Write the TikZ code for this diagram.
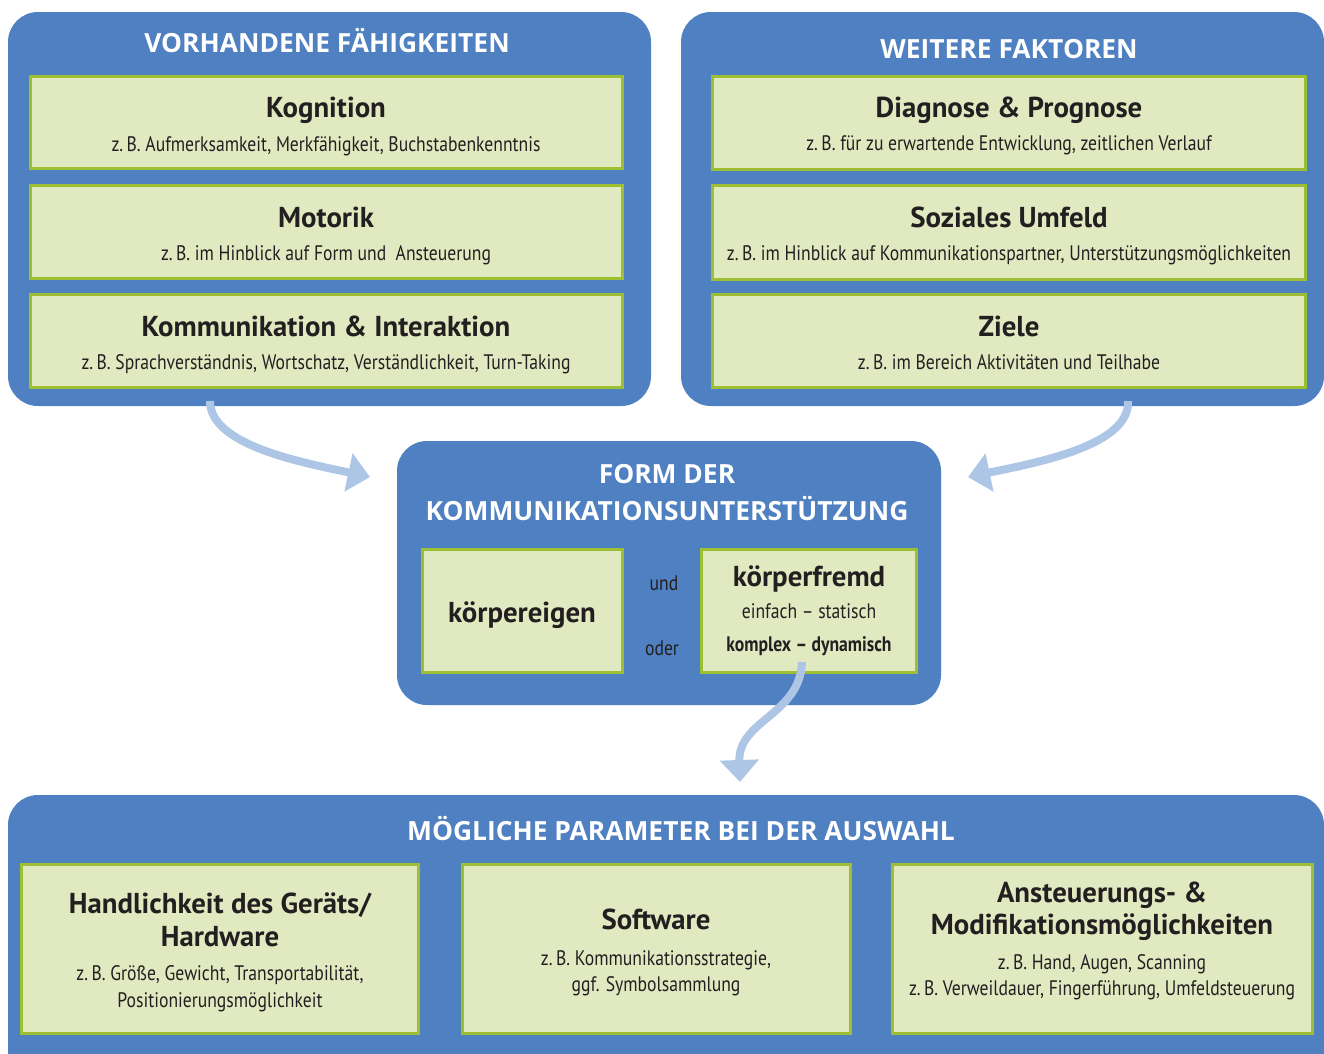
\documentclass[tikz,border=0pt]{standalone}
\usepackage{fontspec}
\setmainfont{PT Sans}
\newfontfamily\condfont[FakeStretch=0.84]{PT Sans}
\newfontfamily\headfont{Open Sans}
\usetikzlibrary{arrows.meta}
\definecolor{panelblue}{HTML}{4F80C1}
\definecolor{boxfill}{HTML}{E1E9C1}
\definecolor{boxline}{HTML}{9DBF32}
\definecolor{arrowblue}{HTML}{ADC6E6}
\definecolor{txt}{HTML}{231F20}
\tikzset{
  panel/.style={fill=panelblue, draw=none, rounded corners=30pt, inner sep=0pt},
  box/.style={fill=boxfill, draw=boxline, line width=3pt, inner sep=0pt},
  ptitle/.style={anchor=base, text=white, inner sep=0pt, font=\headfont\bfseries\fontsize{26.4}{30}\selectfont},
  btitle/.style={anchor=base, text=txt, inner sep=0pt, font=\bfseries\fontsize{28.8}{30}\selectfont},
  bsub/.style={anchor=base, text=txt, inner sep=0pt, font=\condfont\fontsize{21}{23}\selectfont},
  bsubb/.style={anchor=base, text=txt, inner sep=0pt, font=\condfont\bfseries\fontsize{21}{23}\selectfont},
  flow/.style={draw=arrowblue, line width=8pt, -{Triangle[width=38pt,length=22pt]}}
}
\begin{document}
\begin{tikzpicture}[x=1pt,y=-1pt]
\useasboundingbox (0,0) rectangle (1324,1053);
% panels
\node[panel, minimum width=643pt, minimum height=394pt] (vorh) at (329.5,209) {};
\node[panel, minimum width=643pt, minimum height=394pt] (weit) at (1002.5,209) {};
\node[panel, minimum width=544pt, minimum height=264pt] (form) at (669,573) {};
\node[panel, minimum width=1316pt, minimum height=290pt] (param) at (666,940) {};
% left boxes
\node[box, minimum width=592pt, minimum height=92pt] (kog) at (326.5,122.5) {};
\node[box, minimum width=592pt, minimum height=93pt] (mot) at (326.5,232) {};
\node[box, minimum width=592pt, minimum height=93pt] (kom) at (326.5,341) {};
% right boxes
\node[box, minimum width=593pt, minimum height=93pt] (dia) at (1009,123) {};
\node[box, minimum width=593pt, minimum height=94pt] (soz) at (1009,232.5) {};
\node[box, minimum width=593pt, minimum height=93pt] (zie) at (1009,341) {};
% middle boxes
\node[box, minimum width=200pt, minimum height=123pt] (eig) at (522.5,611) {};
\node[box, minimum width=215pt, minimum height=123pt] (fre) at (809,611) {};
% bottom boxes
\node[box, minimum width=397pt, minimum height=169pt] (han) at (220,949) {};
\node[box, minimum width=388pt, minimum height=169pt] (sof) at (656.5,949) {};
\node[box, minimum width=420pt, minimum height=169pt] (ans) at (1102.5,949) {};
% panel titles
\node[ptitle] (t1) at (327,52) {VORHANDENE FÄHIGKEITEN};
\node[ptitle] (t2) at (1009,58) {WEITERE FAKTOREN};
\node[ptitle] (t3a) at (667,483) {FORM DER};
\node[ptitle] (t3b) at (667,520) {KOMMUNIKATIONSUNTERSTÜTZUNG};
\node[ptitle] (t4) at (681,840) {MÖGLICHE PARAMETER BEI DER AUSWAHL};
% left texts
\node[btitle] (kogt) at (326,117) {Kognition};
\node[bsub] (kogs) at (326,151) {z.\,B. Aufmerksamkeit, Merkfähigkeit, Buchstabenkenntnis};
\node[btitle] (mott) at (326,227) {Motorik};
\node[bsub] (mots) at (326,260) {z.\,B. im Hinblick auf Form und\ \ Ansteuerung};
\node[btitle] (komt) at (326,336) {Kommunikation \& Interaktion};
\node[bsub] (koms) at (326,369) {z.\,B. Sprachverständnis, Wortschatz, Verständlichkeit, Turn-Taking};
% right texts
\node[btitle] (diat) at (1009,117) {Diagnose \& Prognose};
\node[bsub] (dias) at (1009,150) {z.\,B. für zu erwartende Entwicklung, zeitlichen Verlauf};
\node[btitle] (sozt) at (1009,227) {Soziales Umfeld};
\node[bsub] (sozs) at (1009,260) {z.\,B. im Hinblick auf Kommunikationspartner, Unterstützungsmöglichkeiten};
\node[btitle] (ziet) at (1009,336) {Ziele};
\node[bsub] (zies) at (1009,369) {z.\,B. im Bereich Aktivitäten und Teilhabe};
% middle texts
\node[btitle] (eigt) at (522,622) {körpereigen};
\node[btitle] (fret) at (809,586) {körperfremd};
\node[bsub] (fres1) at (809,618) {einfach – statisch};
\node[bsubb] (fres2) at (809,651) {komplex – dynamisch};
\node[bsub] (und) at (664,590) {und};
\node[bsub] (oder) at (662,655) {oder};
% bottom texts
\node[btitle] (hant1) at (220,913) {Handlichkeit des Geräts/};
\node[btitle] (hant2) at (220,946) {Hardware};
\node[bsub] (hans1) at (220,980) {z.\,B. Größe, Gewicht, Transportabilität,};
\node[bsub] (hans2) at (220,1007) {Positionierungsmöglichkeit};
\node[btitle] (soft) at (656,929) {Software};
\node[bsub] (sofs1) at (656,965) {z.\,B. Kommunikationsstrategie,};
\node[bsub] (sofs2) at (656,991) {ggf. Symbolsammlung};
\node[btitle] (anst1) at (1102,902) {Ansteuerungs- \&};
\node[btitle] (anst2) at (1102,934) {Modifikationsmöglichkeiten};
\node[bsub] (anss1) at (1102,969) {z.\,B. Hand, Augen, Scanning};
\node[bsub] (anss2) at (1102,995) {z.\,B. Verweildauer, Fingerführung, Umfeldsteuerung};
% arrows
\coordinate (a1s) at (210,401);
\coordinate (a1e) at (370,477);
\coordinate (a2s) at (1128,401);
\coordinate (a2e) at (968,477);
\coordinate (a3s) at (802,662);
\coordinate (a3e) at (740,782);
\draw[flow] (a1s) .. controls (210,445) and (300,462) .. (a1e);
\draw[flow] (a2s) .. controls (1130,445) and (1040,462) .. (a2e);
\draw[flow] (a3s) .. controls (800,715) and (738,720) .. (a3e);
\end{tikzpicture}
\end{document}
